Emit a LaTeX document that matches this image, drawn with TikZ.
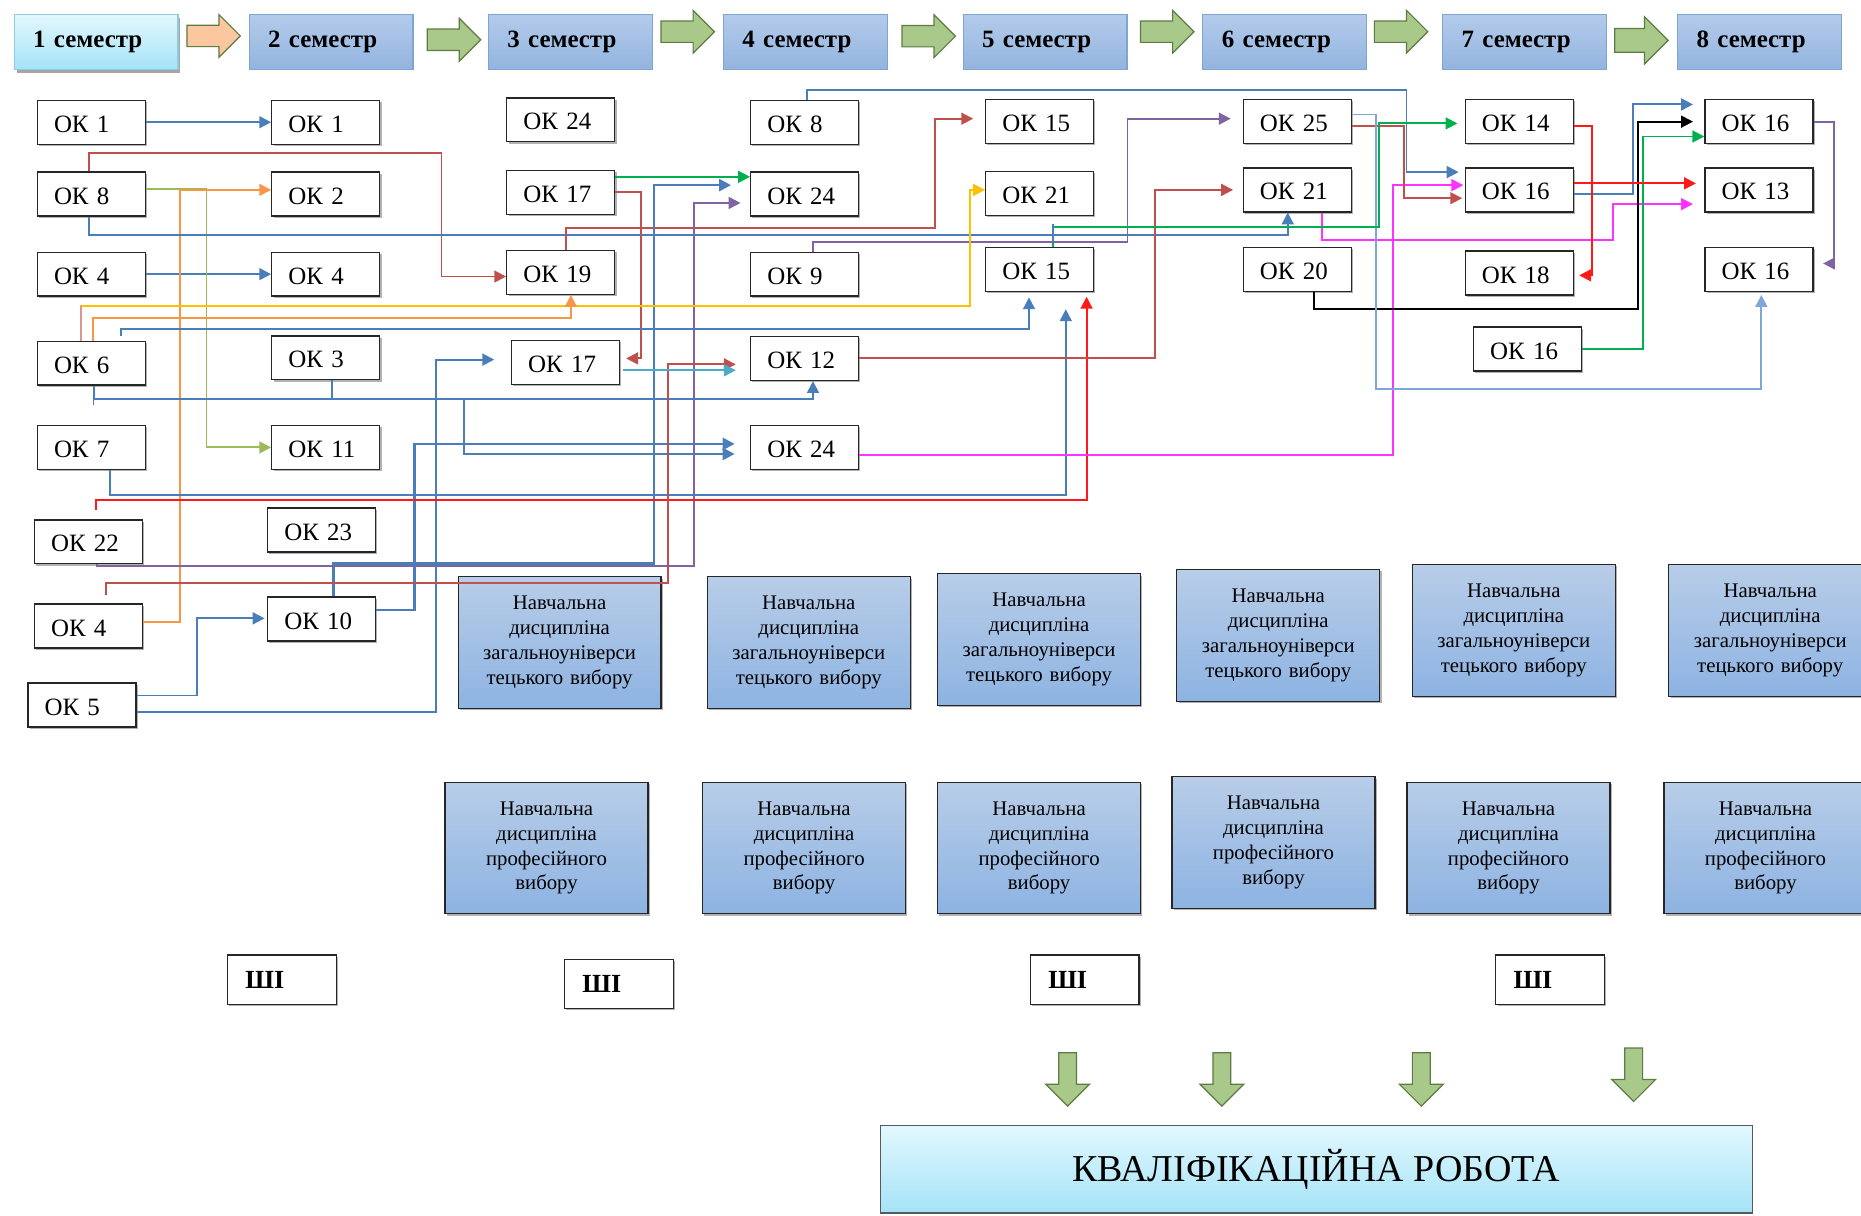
\documentclass[tikz,border=0pt]{standalone}
\usepackage{fontspec}
\setmainfont{Liberation Serif}
\usetikzlibrary{arrows.meta,shadows,calc}
\definecolor{cblue}{HTML}{4A7EBB}
\definecolor{clblue}{HTML}{7EA6D8}
\definecolor{cred}{HTML}{C0504D}
\definecolor{cpink}{HTML}{D99694}
\definecolor{cbred}{HTML}{FF1A1A}
\definecolor{corange}{HTML}{F79646}
\definecolor{colive}{HTML}{9BBB59}
\definecolor{cpurple}{HTML}{8064A2}
\definecolor{cgreen}{HTML}{00B050}
\definecolor{cyellow}{HTML}{FFC000}
\definecolor{cmag}{HTML}{FF33FF}
\definecolor{ccyan}{HTML}{4BACC6}
\definecolor{hdrtop}{HTML}{B3CBEA}
\definecolor{hdrbot}{HTML}{93B4E0}
\definecolor{hdrline}{HTML}{7FA4D6}
\definecolor{cyantop}{HTML}{E2F8FE}
\definecolor{cyanbot}{HTML}{A5E3F7}
\definecolor{cyanline}{HTML}{8FCBE0}
\definecolor{bbtop}{HTML}{B8CDE8}
\definecolor{bbbot}{HTML}{8DB3E2}
\definecolor{arrfill}{HTML}{A9C98A}
\definecolor{arrline}{HTML}{5E7A45}
\definecolor{peachfill}{HTML}{FAC79F}
\definecolor{peachline}{HTML}{9C8570}
\begin{document}
\begin{tikzpicture}[x=1pt,y=-1pt,
  okbox/.style={draw=black!85, line width=1.1pt, fill=white,
    minimum width=91pt, minimum height=37pt, inner xsep=14pt, inner ysep=0pt,
    text width=63pt, text height=18pt, text depth=1pt, align=left,
    font=\fontsize{21}{24}\selectfont,
    drop shadow={shadow xshift=1.5pt,shadow yshift=-1.5pt,opacity=.3,fill=black}},
  hdr/.style={minimum width=138pt, minimum height=46pt, inner xsep=16pt, inner ysep=0pt,
    text width=106pt, align=left, font=\bfseries\fontsize{21}{24}\selectfont,
    top color=hdrtop, bottom color=hdrbot, draw=hdrline, line width=1pt},
  blk/.style={draw=black!85, line width=1pt, top color=bbtop, bottom color=bbbot,
    minimum width=171pt, minimum height=111pt, text width=165pt, align=center,
    inner sep=0pt, font=\fontsize{17.5}{21}\selectfont,
    drop shadow={shadow xshift=1.5pt,shadow yshift=-1.5pt,opacity=.3,fill=black}},
  shbox/.style={draw=black!85, line width=1.1pt, fill=white,
    minimum width=91.5pt, minimum height=41.5pt, inner xsep=15pt, inner ysep=0pt,
    text width=61.5pt, align=left, font=\bfseries\fontsize{22}{24}\selectfont,
    drop shadow={shadow xshift=1.5pt,shadow yshift=-1.5pt,opacity=.3,fill=black}},
  rblk/.pic={\path[draw=arrline, fill=#1, line width=1pt, line join=miter]
    (-22.5,-9) -- (4.5,-9) -- (4.5,-18) -- (22.5,0) -- (4.5,18) -- (4.5,9) -- (-22.5,9) -- cycle;},
  rblkbig/.pic={\path[draw=arrline, fill=#1, line width=1pt, line join=miter]
    (-22.5,-10) -- (2.5,-10) -- (2.5,-20) -- (22.5,0) -- (2.5,20) -- (2.5,10) -- (-22.5,10) -- cycle;},
  dblk/.pic={\path[draw=arrline, fill=#1, line width=1pt, line join=miter]
    (-7.5,-22.5) -- (-7.5,4) -- (-18.5,4) -- (0,22.5) -- (18.5,4) -- (7.5,4) -- (7.5,-22.5) -- cycle;},
  con/.style={line width=1.6pt, -{Triangle[length=10pt,width=10pt]}}
]
\clip (0,0) rectangle (1568,1024);
\fill[white] (0,0) rectangle (1568,1024);

% header
\node[hdr, top color=cyantop, bottom color=cyanbot, draw=cyanline,
  drop shadow={shadow xshift=2pt,shadow yshift=-3pt,opacity=.35,fill=black}] (h1) at (81,35.5) {1 семестр};
\node[hdr] (h2) at (279,35.5) {2 семестр};
\node[hdr] (h3) at (480.5,35.5) {3 семестр};
\node[hdr] (h4) at (678.5,35.5) {4 семестр};
\node[hdr] (h5) at (880.5,35.5) {5 семестр};
\node[hdr] (h6) at (1082.5,35.5) {6 семестр};
\node[hdr] (h7) at (1284.5,35.5) {7 семестр};
\node[hdr] (h8) at (1482.5,35.5) {8 семестр};

\pic[draw=peachline] (ha1) at (180,30.3) {rblk=peachfill};
\pic (ha2) at (382.5,33.5) {rblk=arrfill};
\pic (ha3) at (579.5,26.7) {rblk=arrfill};
\pic (ha4) at (782.5,30.5) {rblk=arrfill};
\pic (ha5) at (983.5,26.7) {rblk=arrfill};
\pic (ha6) at (1180.5,26.7) {rblk=arrfill};
\pic (ha7) at (1383,34) {rblkbig=arrfill};

% column 1
\node[okbox] (c1a) at (77,103) {ОК 1};
\node[okbox] (c1b) at (77,163.5) {ОК 8};
\node[okbox] (c1c) at (77,231) {ОК 4};
\node[okbox] (c1d) at (77,306) {ОК 6};
\node[okbox] (c1e) at (77,377) {ОК 7};
\node[okbox] (c1f) at (74.5,456.5) {ОК 22};
\node[okbox] (c1g) at (74.5,527.5) {ОК 4};
\node[okbox] (c1h) at (69,594) {ОК 5};
% column 2
\node[okbox] (c2a) at (274.5,103) {ОК 1};
\node[okbox] (c2b) at (274.5,163.5) {ОК 2};
\node[okbox] (c2c) at (274.5,231) {ОК 4};
\node[okbox] (c2d) at (274.5,301.5) {ОК 3};
\node[okbox] (c2e) at (274.5,377) {ОК 11};
\node[okbox] (c2f) at (271,446.5) {ОК 23};
\node[okbox] (c2g) at (271,521.5) {ОК 10};
% column 3
\node[okbox] (c3a) at (472.5,101) {ОК 24};
\node[okbox] (c3b) at (472.5,162) {ОК 17};
\node[okbox] (c3c) at (472.5,229.5) {ОК 19};
\node[okbox] (c3d) at (476.5,305.5) {ОК 17};
% column 4
\node[okbox] (c4a) at (678,103) {ОК 8};
\node[okbox] (c4b) at (678,163.5) {ОК 24};
\node[okbox] (c4c) at (678,231) {ОК 9};
\node[okbox] (c4d) at (678,302) {ОК 12};
\node[okbox] (c4e) at (678,377) {ОК 24};
% column 5
\node[okbox] (c5a) at (876,102.5) {ОК 15};
\node[okbox] (c5b) at (876,163) {ОК 21};
\node[okbox] (c5c) at (876,227) {ОК 15};
% column 6
\node[okbox] (c6a) at (1093,102.5) {ОК 25};
\node[okbox] (c6b) at (1093,160) {ОК 21};
\node[okbox] (c6c) at (1093,227) {ОК 20};
% column 7
\node[okbox] (c7a) at (1280,102.5) {ОК 14};
\node[okbox] (c7b) at (1280,160) {ОК 16};
\node[okbox] (c7c) at (1280,230) {ОК 18};
\node[okbox] (c7d) at (1287,294) {ОК 16};
% column 8
\node[okbox] (c8a) at (1482,102.5) {ОК 16};
\node[okbox] (c8b) at (1482,160) {ОК 13};
\node[okbox] (c8c) at (1482,227) {ОК 16};

% elective blocks
\node[blk] (bb1) at (471.5,541.5) {Навчальна\\дисципліна\\загальноуніверси\\тецького вибору};
\node[blk] (bb2) at (681.5,541.5) {Навчальна\\дисципліна\\загальноуніверси\\тецького вибору};
\node[blk] (bb3) at (875.5,539) {Навчальна\\дисципліна\\загальноуніверси\\тецького вибору};
\node[blk] (bb4) at (1077,535.5) {Навчальна\\дисципліна\\загальноуніверси\\тецького вибору};
\node[blk] (bb5) at (1275.5,531) {Навчальна\\дисципліна\\загальноуніверси\\тецького вибору};
\node[blk] (bb6) at (1491.5,531) {Навчальна\\дисципліна\\загальноуніверси\\тецького вибору};

\node[blk] (pb1) at (460.5,714.5) {Навчальна\\дисципліна\\професійного\\вибору};
\node[blk] (pb2) at (677.5,714.5) {Навчальна\\дисципліна\\професійного\\вибору};
\node[blk] (pb3) at (875.5,714.5) {Навчальна\\дисципліна\\професійного\\вибору};
\node[blk] (pb4) at (1073,710) {Навчальна\\дисципліна\\професійного\\вибору};
\node[blk] (pb5) at (1271,714.5) {Навчальна\\дисципліна\\професійного\\вибору};
\node[blk] (pb6) at (1487.5,714.5) {Навчальна\\дисципліна\\професійного\\вибору};

\node[shbox] (s1) at (237.5,825.5) {ШІ};
\node[shbox] (s2) at (521.5,829) {ШІ};
\node[shbox] (s3) at (914,825.5) {ШІ};
\node[shbox] (s4) at (1306,825.5) {ШІ};

\pic (da1) at (899.5,909.5) {dblk=arrfill};
\pic (da2) at (1029.5,909.5) {dblk=arrfill};
\pic (da3) at (1197.5,909.5) {dblk=arrfill};
\pic (da4) at (1376.5,905.5) {dblk=arrfill};

\node[draw=black!65, line width=1pt, top color=cyantop, bottom color=cyanbot,
  minimum width=734.5pt, minimum height=74pt, inner sep=0pt,
  font=\fontsize{32}{36}\selectfont] (fb) at (1109,985) {\raisebox{-3pt}{КВАЛІФІКАЦІЙНА РОБОТА}};

% connectors
\draw[con,cblue] (c1a.east) -- (c2a.west);
\draw[con,cblue] (c1c.east) -- (c2c.west);
\draw[con,cred] ([xshift=-2pt]c1b.north) |- (372,129) |- ([yshift=-3.5pt]c3c.west);
\draw[con,colive] ([yshift=4.5pt]c1b.east) -| (174,377) -- (c2e.west);
\draw[con,corange] ([yshift=3.5pt]c1g.east) -| (152,160) -- ([yshift=3.5pt]c2b.west);
\draw[con,cblue] ([xshift=-2pt]c1b.south) |- (1000,198) -| ([xshift=-8pt]c6b.south);
\draw[con,cred] ([xshift=4.5pt]c3c.north) |- (788,192) |- ([xshift=-10pt,yshift=2.5pt]c5a.west);
\draw[con,cpurple] ([xshift=7pt]c4c.north) |- (950,204) |- ([xshift=-10pt,yshift=2.5pt]c6a.west);
\draw[con,cgreen] ([yshift=13pt]c3b.east) -- ([yshift=14.5pt]c4b.west);
\draw[con,cred] (c3b.east) -| (540,302) -- ([xshift=5pt,yshift=3.5pt]c3d.east);
\draw[con,cblue,line width=2.2pt] ([xshift=10pt]c2g.north) |- (551,475) |- ([xshift=-16pt,yshift=7.5pt]c4b.west);
\draw[con,cpurple] ([xshift=7.5pt]c1f.south) |- (585,477) |- ([xshift=-8pt,yshift=-7.5pt]c4b.west);
\draw[con,cblue] ([yshift=-6pt]c1h.east) -| (367,303) -- ([xshift=-14pt,yshift=2.5pt]c3d.west);
\draw[con,cblue] ([yshift=8pt]c1h.east) -| (166,521) -- ([xshift=-2pt,yshift=0.5pt]c2g.west);
\draw[con,cblue,line width=2.2pt] ([yshift=7.5pt]c2g.east) -| (349,374) -- ([xshift=-13pt,yshift=3pt]c4e.west);
\draw[con,cblue] ([xshift=2pt]c1d.south) |- (685,336) -- ([xshift=7pt]c4d.south);
\draw[cblue,line width=1.6pt] ([xshift=5.5pt]c2d.south) -- (280,336);
\draw[cblue,line width=1.2pt] (79,336) -- (79,341);
\draw[con,cblue,line width=2.2pt] (391,336) |- ([xshift=-13pt,yshift=-5.5pt]c4e.west);
\draw[con,cyellow] ([xshift=-9pt]c1d.north) |- (817,258) |- ([yshift=3pt]c5b.west);
\draw[cpink,line width=1.6pt] ([xshift=-9pt]c1d.north) -- ([xshift=-9pt,yshift=29.5pt]c1d.north);
\draw[con,corange] ([xshift=1pt]c1d.north) |- (481,268) -- ([xshift=8.5pt]c3c.south);
\draw[con,cblue] ([xshift=25pt,yshift=4pt]c1d.north) |- (867,277) -- ([xshift=-9pt,yshift=-4.5pt]c5c.south);
\draw[con,cblue] ([xshift=16pt]c1e.south) |- (898,417) -- ([xshift=22pt,yshift=-14.5pt]c5c.south);
\draw[con,cbred] ([xshift=6.5pt,yshift=8pt]c1f.north) |- (915.5,421) -- ([xshift=39.5pt,yshift=-4pt]c5c.south);
\draw[con,cred] ([xshift=14.5pt,yshift=7pt]c1g.north) |- (563,491) |- ([xshift=-12pt,yshift=-5pt]c4d.west);
\draw[con,ccyan] ([xshift=2pt,yshift=-6.5pt]c3d.east) -- ([xshift=-12pt,yshift=-10pt]c4d.west);
\draw[con,cred] (c4d.east) -| (973,160) -- ([xshift=-8pt]c6b.west);
\draw[con,cmag] ([yshift=-6pt]c4e.east) -| (1174,156) -- ([xshift=-1pt,yshift=4pt]c7b.west);
\draw[con,cmag] ([xshift=21pt]c6b.south) |- (1359,202) |- ([xshift=-9.5pt,yshift=-12pt]c8b.west);
\draw[con,black] ([xshift=14pt]c6c.south) |- (1380,260) |- ([xshift=-9.5pt]c8a.west);
\draw[con,cgreen] (c7d.east) -| (1384,115) -- ([yshift=-12.5pt]c8a.west);
\draw[con,cblue] ([yshift=-3.5pt]c7b.east) -| (1376,88) -- ([xshift=-9.5pt,yshift=14.5pt]c8a.west);
\draw[con,cbred] ([yshift=5.5pt]c7b.east) -- ([xshift=-7pt,yshift=5.5pt]c8b.west);
\draw[con,cbred] ([yshift=-3.5pt]c7a.east) -| (1341,232) -- ([xshift=4.5pt,yshift=-2pt]c7c.east);
\draw[con,cpurple] (c8a.east) -| (1545,222) -- ([xshift=8pt,yshift=5pt]c8c.east);
\draw[con,cred] ([yshift=-3.5pt]c6a.east) -| (1183,167) -- ([xshift=-2pt,yshift=-7pt]c7b.west);
\draw[con,clblue] ([yshift=6pt]c6a.east) -| (1159,328) -| ([xshift=2pt,yshift=-2.5pt]c8c.south);
\draw[con,cblue] ([xshift=2pt]c4a.north) |- (1185,76) |- ([xshift=-5pt,yshift=15pt]c7b.west);
\draw[con,cgreen] ([xshift=11pt]c5c.north) |- (1162,191) |- ([xshift=-6pt,yshift=-1.5pt]c7a.west);
\draw[cblue,line width=1.6pt] ([xshift=11pt,yshift=3pt]c5c.north) -- ([xshift=11pt,yshift=19pt]c5c.north);
\end{tikzpicture}
\end{document}
